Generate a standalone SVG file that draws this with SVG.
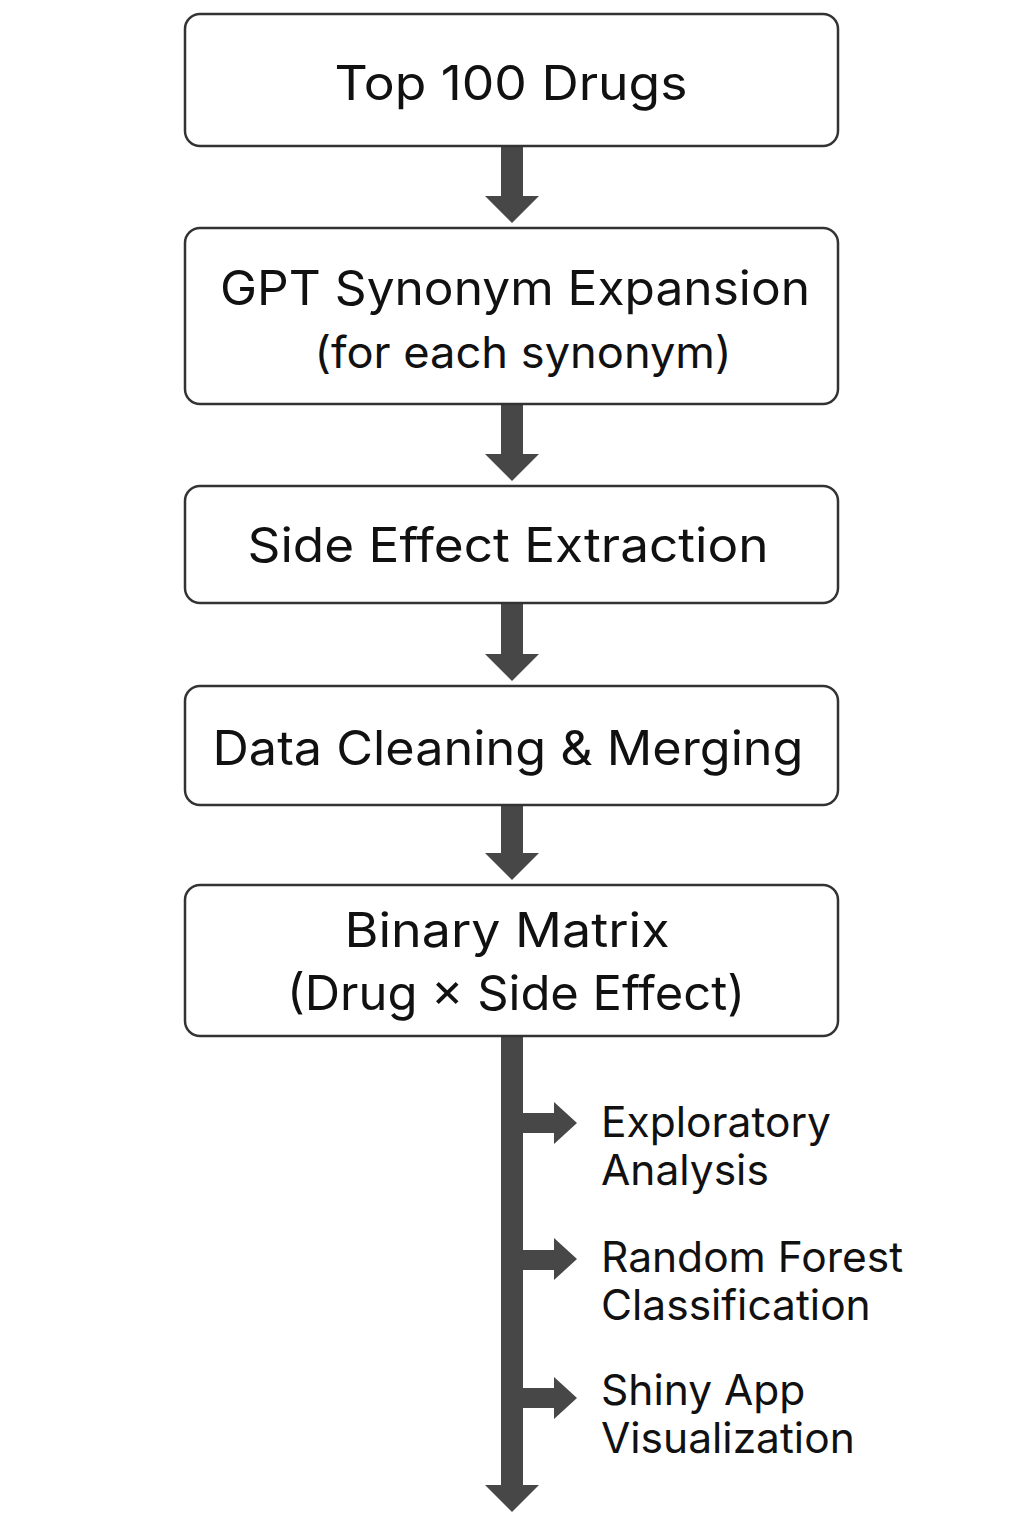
<svg xmlns="http://www.w3.org/2000/svg" width="1024" height="1536" viewBox="0 0 1024 1536">
<style>
.box{fill:#ffffff;stroke:#333333;stroke-width:2.5}
.t{font-family:Inter,"Liberation Sans",sans-serif;font-size:48px;fill:#111111;text-anchor:middle}
.s{font-family:Inter,"Liberation Sans",sans-serif;font-size:42.5px;fill:#111111}
.arr{fill:#474747}
</style>
<rect width="1024" height="1536" fill="#ffffff"/>
<g id="connectors">
<path class="arr" d="M501 146 H523 V196 H539 L512 223 L485 196 H501 Z"/>
<path class="arr" d="M501 404 H523 V454 H539 L512 481 L485 454 H501 Z"/>
<path class="arr" d="M501 603 H523 V654 H539 L512 681 L485 654 H501 Z"/>
<path class="arr" d="M501 805 H523 V853 H539 L512 880 L485 853 H501 Z"/>
<path class="arr" d="M501 1036 H523 V1485 H539 L512 1512 L485 1485 H501 Z"/>
<path class="arr" d="M522 1113 H554 V1102 L577 1123 L554 1144 V1133 H522 Z"/>
<path class="arr" d="M522 1250 H554 V1238 L577 1259 L554 1280 V1270 H522 Z"/>
<path class="arr" d="M522 1388 H554 V1377 L577 1398 L554 1419 V1408 H522 Z"/>
</g>
<g id="n1">
<rect class="box" x="185" y="14" width="653" height="132" rx="15"/>
<text class="t" x="511" y="100" textLength="353" lengthAdjust="spacingAndGlyphs">Top 100 Drugs</text>
</g>
<g id="n2">
<rect class="box" x="185" y="228" width="653" height="176" rx="15"/>
<text class="t" x="515" y="305" textLength="590" lengthAdjust="spacingAndGlyphs">GPT Synonym Expansion</text>
<text class="t" x="523" y="368" style="font-size:44px" textLength="417" lengthAdjust="spacingAndGlyphs">(for each synonym)</text>
</g>
<g id="n3">
<rect class="box" x="185" y="486" width="653" height="117" rx="15"/>
<text class="t" x="508" y="562" textLength="521" lengthAdjust="spacingAndGlyphs">Side Effect Extraction</text>
</g>
<g id="n4">
<rect class="box" x="185" y="686" width="653" height="119" rx="15"/>
<text class="t" x="508" y="765" textLength="591" lengthAdjust="spacingAndGlyphs">Data Cleaning &amp; Merging</text>
</g>
<g id="n5">
<rect class="box" x="185" y="885" width="653" height="151" rx="15"/>
<text class="t" x="507" y="947" textLength="325" lengthAdjust="spacingAndGlyphs">Binary Matrix</text>
<text class="t" x="516" y="1010" textLength="458" lengthAdjust="spacingAndGlyphs">(Drug × Side Effect)</text>
</g>
<g id="o1">
<text class="s" x="601" y="1137">Exploratory</text>
<text class="s" x="601" y="1185">Analysis</text>
</g>
<g id="o2">
<text class="s" x="601" y="1272">Random Forest</text>
<text class="s" x="601" y="1320">Classification</text>
</g>
<g id="o3">
<text class="s" x="601" y="1405">Shiny App</text>
<text class="s" x="601" y="1453">Visualization</text>
</g>
</svg>
